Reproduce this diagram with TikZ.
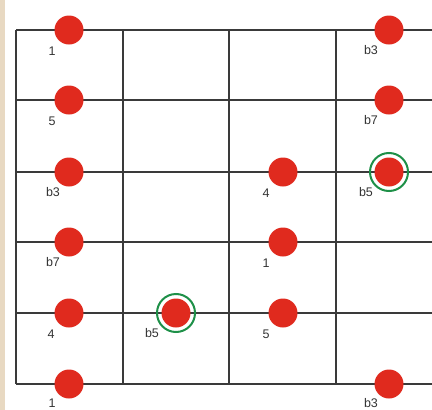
\documentclass[tikz,border=0pt]{standalone}
\usepackage{fontspec}
\setmainfont{Liberation Sans}
\definecolor{dotred}{HTML}{E02A1E}
\definecolor{ringgreen}{HTML}{1E9048}
\definecolor{gridgray}{HTML}{3A3A3A}
\definecolor{strip}{HTML}{E8D9C2}
\begin{document}
\begin{tikzpicture}[x=1pt,y=-1pt,
  gridline/.style={draw=gridgray,line width=1.1pt},
  fdot/.style={circle,fill=dotred,minimum size=29pt,inner sep=0pt},
  ring/.style={circle,draw=ringgreen,line width=2pt,minimum size=38pt,inner sep=0pt},
  lbl/.style={font=\fontsize{12.5}{13}\selectfont,text=black!80,inner sep=0pt}]
\useasboundingbox (0,0) rectangle (432,410);
\fill[white] (0,0) rectangle (432,410);
\fill[strip] (0,0) rectangle (5,410);
% strings
\foreach \y in {30,100,172,242,313,384}
  \draw[gridline] (16,\y) -- (432,\y);
% frets
\foreach \x in {16,123,229,336}
  \draw[gridline] (\x,30) -- (\x,384);
% dots
\node[fdot] (d11) at (69,30) {};
\node[fdot] (d14) at (389,30) {};
\node[fdot] (d21) at (69,100) {};
\node[fdot] (d24) at (389,100) {};
\node[fdot] (d31) at (69,172) {};
\node[fdot] (d33) at (283,172) {};
\node[ring] (r34) at (389,172) {};
\node[fdot] (d34) at (389,172) {};
\node[fdot] (d41) at (69,242) {};
\node[fdot] (d43) at (283,242) {};
\node[fdot] (d51) at (69,313) {};
\node[ring] (r52) at (176,313) {};
\node[fdot] (d52) at (176,313) {};
\node[fdot] (d53) at (283,313) {};
\node[fdot] (d61) at (69,384) {};
\node[fdot] (d64) at (389,384) {};
% labels
\node[lbl] (l11) at ([shift={(-17,21)}]d11.center) {1};
\node[lbl] (l14) at ([shift={(-18,20)}]d14.center) {b3};
\node[lbl] (l21) at ([shift={(-17,21)}]d21.center) {5};
\node[lbl] (l24) at ([shift={(-18,20)}]d24.center) {b7};
\node[lbl] (l31) at ([shift={(-16,20)}]d31.center) {b3};
\node[lbl] (l33) at ([shift={(-17,21)}]d33.center) {4};
\node[lbl] (l34) at ([shift={(-23,20)}]d34.center) {b5};
\node[lbl] (l41) at ([shift={(-16,20)}]d41.center) {b7};
\node[lbl] (l43) at ([shift={(-17,21)}]d43.center) {1};
\node[lbl] (l51) at ([shift={(-18,21)}]d51.center) {4};
\node[lbl] (l52) at ([shift={(-24,20)}]d52.center) {b5};
\node[lbl] (l53) at ([shift={(-17,21)}]d53.center) {5};
\node[lbl] (l61) at ([shift={(-17,19)}]d61.center) {1};
\node[lbl] (l64) at ([shift={(-18,19)}]d64.center) {b3};
\end{tikzpicture}
\end{document}
